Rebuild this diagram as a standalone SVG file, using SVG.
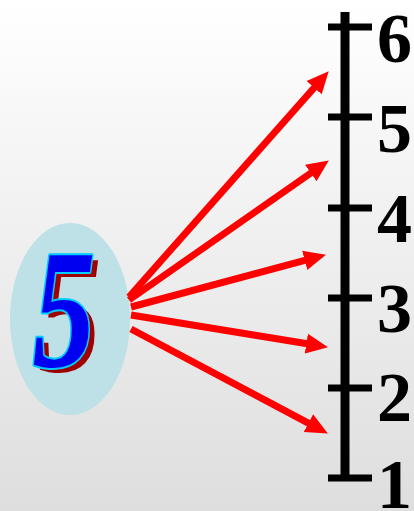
<svg xmlns="http://www.w3.org/2000/svg" width="414" height="511" viewBox="0 0 414 511">
<defs>
<linearGradient id="bg" x1="0" y1="0" x2="0" y2="1">
<stop offset="0" stop-color="#FFFFFF"/>
<stop offset="1" stop-color="#DEDEDE"/>
</linearGradient>
<marker id="ah" markerUnits="userSpaceOnUse" markerWidth="24" markerHeight="22" viewBox="0 0 24 22" refX="1" refY="11" orient="auto">
<path d="M0,1 L22,11 L0,21 z" fill="#FF0000"/>
</marker>
<style>
.arrow{stroke:#FF0000;stroke-width:7;fill:none;marker-end:url(#ah)}
.axis{stroke:#000;stroke-width:9}
.tick{stroke:#000;stroke-width:7}
.lbl{font-family:"Liberation Serif","Times New Roman",serif;font-weight:bold;font-size:70px;fill:#000}
.big{font-family:"Liberation Serif","Times New Roman",serif;font-weight:bold;font-style:italic;font-size:170px}
</style>
</defs>
<rect x="0" y="0" width="414" height="511" fill="url(#bg)"/>
<g id="circle5">
<ellipse cx="70" cy="319" rx="60" ry="96" fill="#BDE1E6"/>
<g transform="translate(64,366) scale(0.74,1)">
<text class="big" x="8" y="5" text-anchor="middle" fill="#A00000">5</text>
<text class="big" x="0" y="0" text-anchor="middle" fill="#0000F0" stroke="#00CCFF" stroke-width="4" stroke-linejoin="round" paint-order="stroke">5</text>
</g>
</g>
<g id="axis">
<line class="axis" x1="345" y1="12" x2="345" y2="481"/>
<line class="tick" x1="328" y1="27" x2="372" y2="27"/>
<line class="tick" x1="328" y1="117" x2="372" y2="117"/>
<line class="tick" x1="328" y1="208" x2="372" y2="208"/>
<line class="tick" x1="328" y1="298" x2="372" y2="298"/>
<line class="tick" x1="328" y1="388" x2="372" y2="388"/>
<line class="tick" x1="328" y1="478" x2="372" y2="478"/>
</g>
<g id="labels">
<text class="lbl" x="377" y="62">6</text>
<text class="lbl" x="377" y="152">5</text>
<text class="lbl" x="377" y="242">4</text>
<text class="lbl" x="377" y="332">3</text>
<text class="lbl" x="377" y="421">2</text>
<text class="lbl" x="377" y="508">1</text>
</g>
<g id="connectors">
<line class="arrow" x1="129" y1="297" x2="314.8" y2="87"/>
<line class="arrow" x1="129" y1="300" x2="311.6" y2="172.5"/>
<line class="arrow" x1="131" y1="307" x2="305.7" y2="260.2"/>
<line class="arrow" x1="131" y1="315" x2="307.3" y2="343.8"/>
<line class="arrow" x1="131" y1="329" x2="309.3" y2="423.6"/>
</g>
</svg>
